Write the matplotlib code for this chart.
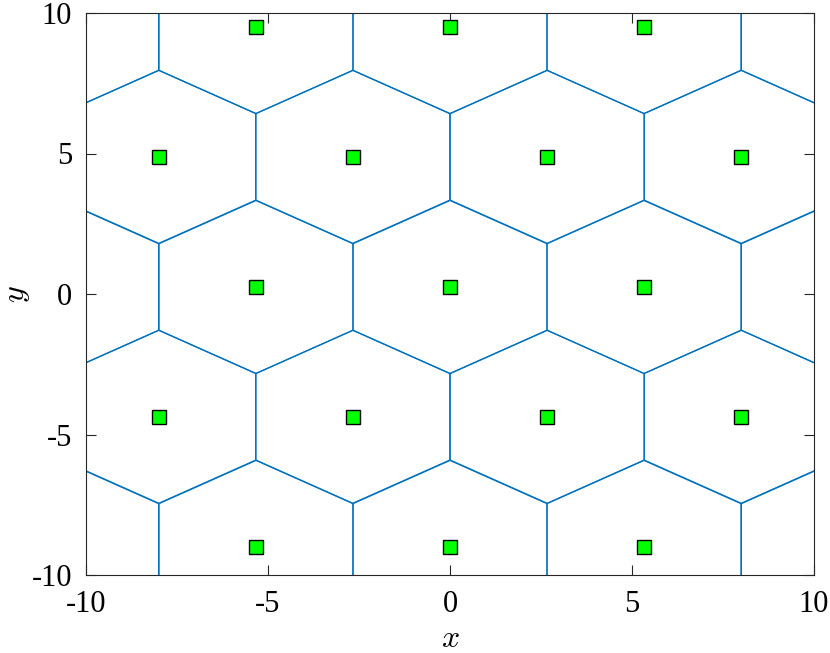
import numpy as np
import matplotlib
matplotlib.use("Agg")
import matplotlib.pyplot as plt

# Hexagonal lattice of generator points (lattice continues just outside the view)
row_y = [14.12, 9.5, 4.88, 0.25, -4.37, -9.0, -13.62]
x_even = [-10.67, -5.33, 0.0, 5.33, 10.67]   # rows 9.5, 0.25, -9.0 (and +-13.6)
x_odd = [-13.33, -8.0, -2.67, 2.67, 8.0, 13.33]  # rows 4.88, -4.37
spacing = 5.33

xticks = [-10, -5, 0, 5, 10]
yticks = [-10, -5, 0, 5, 10]

pts = []
for i, y in enumerate(row_y):
    xs = x_even if i % 2 == 1 else x_odd
    for x in xs:
        pts.append((x, y))
pts = np.array(pts)

plt.rcParams['mathtext.fontset'] = 'cm'
fig = plt.figure(figsize=(8.3, 6.53), dpi=100)
ax = fig.add_axes([86/830, 1-575/653, (814-86)/830, (575-13)/653])

blue = (0, 0.447, 0.741)
R = spacing / np.sqrt(3)
ang = np.deg2rad(np.arange(30, 391, 60))
for (px, py) in pts:
    hx = px + R * np.cos(ang)
    hy = py + R * np.sin(ang)
    ax.plot(hx, hy, color=blue, lw=0.9, solid_joinstyle='miter')

ax.plot(pts[:, 0], pts[:, 1], 's', ms=10, mfc=(0, 1, 0), mec='black', mew=1.0, ls='none')

ax.set_xlim(-10, 10)
ax.set_ylim(-10, 10)
ax.set_xticks(xticks)
ax.set_yticks(yticks)
ax.set_xticklabels([str(t) for t in xticks])
ax.set_yticklabels([str(t) for t in yticks])
for lab in ax.get_xticklabels() + ax.get_yticklabels():
    lab.set_fontfamily('Liberation Serif')
    lab.set_fontsize(22)
ax.tick_params(direction='in', length=7, width=0.8, color='#262626', top=True, right=True)
ax.tick_params(axis='x', pad=11)
ax.tick_params(axis='y', pad=10)
for s in ax.spines.values():
    s.set_color('#262626')
    s.set_linewidth(0.8)
ax.set_xlabel(r'$x$', fontsize=23, labelpad=3)
ax.set_ylabel(r'$y$', fontsize=23, va='center')
ax.yaxis.set_label_coords(-0.096, 0.5)

fig.savefig('out.png', dpi=100)
